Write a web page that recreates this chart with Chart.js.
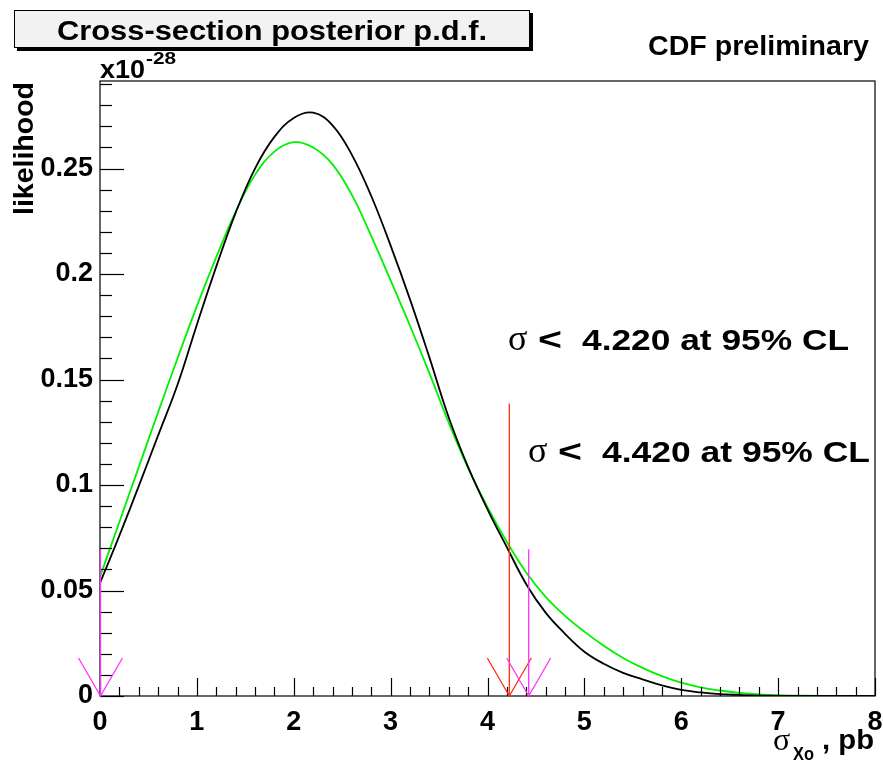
<!DOCTYPE html>
<html>
<head>
<meta charset="utf-8">
<script src="https://cdn.jsdelivr.net/npm/chart.js@4.4.1/dist/chart.umd.min.js"></script>
<style>
  html, body { margin: 0; background: #fff; }
</style>
</head>
<body>
<canvas id="chart" width="883" height="763"></canvas>
<script>
// sigma (pb) sample points
const sigmaPb = [0, 0.2, 0.4, 0.6, 0.8, 1.0, 1.2, 1.4, 1.6, 1.8, 2.0, 2.2, 2.4, 2.6, 2.8, 3.0,
  3.2, 3.4, 3.6, 3.8, 4.0, 4.2, 4.4, 4.6, 4.8, 5.0, 5.2, 5.4, 5.6, 5.8, 6.0, 6.2, 6.4, 6.6,
  6.8, 7.0, 7.2, 7.4, 7.6, 7.8, 8.0];

// posterior p.d.f. (x1e-28), black curve
const posteriorBlack = [0.0535, 0.076, 0.0995, 0.1235, 0.1475, 0.176, 0.2035, 0.229, 0.250, 0.265,
  0.274, 0.2765, 0.2705, 0.2565, 0.237, 0.2135, 0.188, 0.1605, 0.1320, 0.1085, 0.0885, 0.0705, 0.053,
  0.0395, 0.0295, 0.021, 0.0153, 0.011, 0.0079, 0.005, 0.0029, 0.0017, 0.0009, 0.0005, 0.0002,
  0.0001, 0, 0, 0, 0, 0];

// posterior p.d.f. (x1e-28), green curve
const posteriorGreen = [0.0565, 0.0825, 0.1085, 0.1345, 0.160, 0.1848, 0.208, 0.2295, 0.247, 0.258,
  0.2625, 0.260, 0.252, 0.2375, 0.218, 0.197, 0.1755, 0.153, 0.1295, 0.108, 0.0895, 0.073, 0.0585,
  0.047, 0.038, 0.0305, 0.0238, 0.018, 0.0133, 0.0094, 0.0063, 0.0041, 0.0026, 0.0015, 0.0008,
  0.0004, 0.0002, 0.0001, 0, 0, 0];

const xTicks = [0, 1, 2, 3, 4, 5, 6, 7, 8];
const yTicks = [0, 0.05, 0.1, 0.15, 0.2, 0.25];
const yTickLabels = ['0', '0.05', '0.1', '0.15', '0.2', '0.25'];

// upper limits (arrows): x position and arrow top
const limitRedX = [4.22];
const limitRedTop = [0.1386];
const limitMagentaX = [0, 4.42];
const limitMagentaTop = [0.0695, 0.0695];
const limitLabels = ['4.220 at 95% CL', '4.420 at 95% CL'];

const FONT = '"Liberation Sans", Arial, Helvetica, sans-serif';
const SERIF = '"Liberation Serif", "Times New Roman", serif';

// draw text squeezed/stretched to a given width
function fitText(ctx, text, x, y, width, font, align) {
  ctx.save();
  ctx.font = font;
  const w = ctx.measureText(text).width;
  const s = width / w;
  ctx.textAlign = 'left';
  let left = x;
  if (align === 'center') left = x - width / 2;
  if (align === 'right') left = x - width;
  ctx.translate(left, y);
  ctx.scale(s, 1);
  ctx.fillText(text, 0, 0);
  ctx.restore();
}

const rootFrame = {
  id: 'rootFrame',
  afterDatasetsDraw(chart) {
    const ctx = chart.ctx;
    const xs = chart.scales.x, ys = chart.scales.y;
    const a = chart.chartArea;

    ctx.save();
    // frame
    ctx.strokeStyle = '#000';
    ctx.lineWidth = 1.2;
    ctx.strokeRect(a.left, a.top, a.right - a.left, a.bottom - a.top);

    // y ticks (inward)
    for (let i = 0; i <= 29; i++) {
      const py = Math.round(ys.getPixelForValue(i / 100)) + 0.5;
      const len = i % 5 === 0 ? 24 : 12;
      ctx.beginPath();
      ctx.moveTo(a.left, py);
      ctx.lineTo(a.left + len, py);
      ctx.stroke();
    }
    // x ticks (inward)
    for (let i = 0; i <= 40; i++) {
      const px = Math.round(xs.getPixelForValue(i / 5)) + 0.5;
      const len = i % 5 === 0 ? 18 : 9;
      ctx.beginPath();
      ctx.moveTo(px, a.bottom);
      ctx.lineTo(px, a.bottom - len);
      ctx.stroke();
    }

    // arrows
    const arrow = (xv, topv, color) => {
      const px = xs.getPixelForValue(xv) + 0.5;
      const py0 = ys.getPixelForValue(0);
      const pyt = ys.getPixelForValue(topv);
      ctx.strokeStyle = color;
      ctx.lineWidth = 1.3;
      ctx.beginPath();
      ctx.moveTo(px, pyt);
      ctx.lineTo(px, py0);
      ctx.moveTo(px - 22, py0 - 38);
      ctx.lineTo(px, py0);
      ctx.lineTo(px + 22, py0 - 38);
      ctx.stroke();
    };
    limitRedX.forEach((v, i) => arrow(v, limitRedTop[i], '#ff3010'));
    limitMagentaX.forEach((v, i) => arrow(v, limitMagentaTop[i], '#ff33ff'));

    // title box
    ctx.fillStyle = '#000';
    ctx.fillRect(17, 13, 516, 38);
    ctx.fillStyle = '#f2f2f2';
    ctx.fillRect(14, 10, 516, 38);
    ctx.strokeStyle = '#000';
    ctx.lineWidth = 1;
    ctx.strokeRect(14.5, 10.5, 515, 37);
    ctx.fillStyle = '#000';
    ctx.textBaseline = 'alphabetic';
    fitText(ctx, 'Cross-section posterior p.d.f.', 272, 40, 430, 'bold 28px ' + FONT, 'center');

    // CDF preliminary
    fitText(ctx, 'CDF preliminary', 869, 55, 221, 'bold 27px ' + FONT, 'right');

    // exponent
    fitText(ctx, 'x10', 100, 78, 45, 'bold 26px ' + FONT, 'left');
    fitText(ctx, '-28', 146, 64, 30, 'bold 17px ' + FONT, 'left');

    // y title
    ctx.save();
    ctx.translate(33, 82);
    ctx.rotate(-Math.PI / 2);
    fitText(ctx, 'likelihood', 0, 0, 133, 'bold 27px ' + FONT, 'right');
    ctx.restore();

    // x title
    ctx.font = '32px ' + SERIF;
    ctx.fillText('\u03c3', 773, 750);
    fitText(ctx, 'Xo', 793, 760, 21, 'bold 19px ' + FONT, 'left');
    fitText(ctx, ', pb', 874, 749, 52, 'bold 27px ' + FONT, 'right');

    // limit labels
    const lab = (x0, yb, text, w) => {
      ctx.font = '36px ' + SERIF;
      ctx.fillText('\u03c3', x0, yb);
      fitText(ctx, '<', x0 + 30, yb, 24, 'bold 32px ' + FONT, 'left');
      fitText(ctx, text, x0 + 74, yb, w, 'bold 30px ' + FONT, 'left');
    };
    lab(508, 350, limitLabels[0], 267);
    lab(528, 462, limitLabels[1], 268);

    ctx.restore();
  }
};

const ctx = document.getElementById('chart').getContext('2d');
new Chart(ctx, {
  type: 'line',
  data: {
    datasets: [
      {
        label: 'black',
        data: sigmaPb.map((x, i) => ({ x, y: posteriorBlack[i] })),
        borderColor: '#000000',
        borderWidth: 1.8,
        pointRadius: 0,
        tension: 0.4,
        fill: false
      },
      {
        label: 'green',
        data: sigmaPb.map((x, i) => ({ x, y: posteriorGreen[i] })),
        borderColor: '#00f000',
        borderWidth: 1.8,
        pointRadius: 0,
        tension: 0.4,
        fill: false
      }
    ]
  },
  options: {
    responsive: false,
    animation: false,
    layout: { padding: { left: 0, right: 8, top: 81, bottom: 0 } },
    plugins: { legend: { display: false }, tooltip: { enabled: false } },
    scales: {
      x: {
        type: 'linear',
        min: 0, max: 8,
        afterFit: s => { s.height = 67; s.paddingLeft = 0; s.paddingRight = 0; },
        afterBuildTicks: s => { s.ticks = xTicks.map(v => ({ value: v })); },
        grid: { display: false, drawTicks: false },
        border: { display: false },
        ticks: {
          color: '#000', padding: 10, maxRotation: 0,
          font: { family: FONT, size: 27, weight: 'bold' },
          callback: v => String(v)
        }
      },
      y: {
        type: 'linear',
        min: 0, max: 0.2915,
        afterFit: s => { s.width = 100; s.paddingTop = 0; s.paddingBottom = 0; },
        afterBuildTicks: s => { s.ticks = yTicks.map(v => ({ value: v })); },
        grid: { display: false, drawTicks: false },
        border: { display: false },
        ticks: {
          color: '#000', padding: 7,
          font: { family: FONT, size: 27, weight: 'bold' },
          callback: v => yTickLabels[yTicks.indexOf(v)] ?? ''
        }
      }
    }
  },
  plugins: [rootFrame]
});
</script>
</body>
</html>
